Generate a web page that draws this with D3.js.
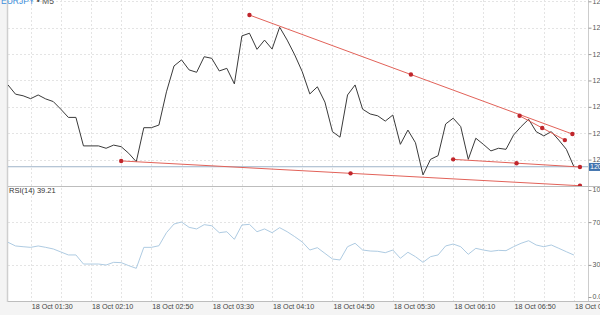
<!DOCTYPE html>
<html>
<head>
<meta charset="utf-8">
<script src="https://cdn.jsdelivr.net/npm/d3@7"></script>
<style>
    body { margin: 0; background: #f4f4f4; }
    svg { display: block; font-family: "Liberation Sans", Arial, sans-serif; }
</style>
</head>
<body>
<div id="chart"></div>
<script>
// data
var bar_times = [
    "01:15", "01:20", "01:25", "01:30", "01:35", "01:40", "01:45", "01:50", "01:55", "02:00",
    "02:05", "02:10", "02:15", "02:20", "02:25", "02:30", "02:35", "02:40", "02:45", "02:50",
    "02:55", "03:00", "03:05", "03:10", "03:15", "03:20", "03:25", "03:30", "03:35", "03:40",
    "03:45", "03:50", "03:55", "04:00", "04:05", "04:10", "04:15", "04:20", "04:25", "04:30",
    "04:35", "04:40", "04:45", "04:50", "04:55", "05:00", "05:05", "05:10", "05:15", "05:20",
    "05:25", "05:30", "05:35", "05:40", "05:45", "05:50", "05:55", "06:00", "06:05", "06:10",
    "06:15", "06:20", "06:25", "06:30", "06:35", "06:40", "06:45", "06:50", "06:55", "07:00",
    "07:05", "07:10", "07:15", "07:20", "07:25", "07:30"
];

var price_values = [
    120.383, 120.348, 120.342, 120.331, 120.345, 120.330, 120.320, 120.291, 120.260, 120.260,
    120.152, 120.152, 120.152, 120.143, 120.155, 120.149, 120.124, 120.092, 120.221, 120.221,
    120.231, 120.357, 120.455, 120.478, 120.440, 120.431, 120.490, 120.484, 120.436, 120.446,
    120.387, 120.569, 120.579, 120.518, 120.553, 120.519, 120.602, 120.553, 120.497, 120.433,
    120.349, 120.376, 120.318, 120.206, 120.185, 120.345, 120.383, 120.291, 120.273, 120.266,
    120.246, 120.269, 120.158, 120.212, 120.164, 120.042, 120.101, 120.115, 120.235, 120.257,
    120.225, 120.101, 120.181, 120.158, 120.133, 120.143, 120.139, 120.193, 120.225, 120.253,
    120.206, 120.190, 120.206, 120.174, 120.139, 120.073
];

var rsi_values = [
    51.1, 47.7, 47.0, 46.4, 47.7, 46.4, 44.9, 42.1, 39.3, 39.3,
    30.8, 30.8, 30.8, 29.9, 32.4, 32.1, 29.3, 26.8, 46.4, 46.4,
    47.9, 60.1, 68.2, 70.1, 65.1, 63.6, 67.6, 66.6, 60.1, 61.0,
    53.9, 67.3, 67.9, 61.0, 63.6, 60.1, 64.8, 61.0, 56.4, 51.4,
    43.9, 46.1, 40.8, 35.5, 34.6, 47.0, 50.2, 43.9, 43.0, 42.7,
    41.4, 43.9, 36.2, 41.8, 37.7, 32.4, 37.7, 39.3, 47.7, 49.5,
    47.0, 39.9, 45.5, 43.9, 42.7, 43.6, 43.3, 47.0, 50.2, 52.6,
    48.6, 47.0, 48.6, 45.5, 42.3, 39.21
];

var price_ticks = [120.1, 120.2, 120.3, 120.4, 120.5, 120.6, 120.7];
var rsi_ticks = [0, 30, 70, 100];
var time_ticks = ["01:30", "02:10", "02:50", "03:30", "04:10", "04:50", "05:30", "06:10", "06:50", "07:30"];

// trend lines drawn on the chart: [time, price]
var trend_lines = [
    {start: ["03:55", 120.648], end: ["07:29", 120.197]},
    {start: ["06:54", 120.266], end: ["07:24", 120.174]},
    {start: ["06:10", 120.101], end: ["07:34", 120.072]},
    {start: ["02:30", 120.095], end: ["07:34", 120.001]}
];

var symbol_text = "EURJPY";
var period_text = " \u2022 M5";
var rsi_label_text = "RSI(14) 39.21";

// layout
var svg_size = {width: 600, height: 315};
var plot = {left: 8, right: 588, price_top: 0, price_bottom: 186, rsi_top: 190, rsi_bottom: 297, bottom: 301};

var parse_time = function(t){
    return d3.timeParse("%Y-%m-%d %H:%M")("2019-10-18 " + t);
};

var x_scale = d3.scaleTime()
    .domain([parse_time("01:15"), parse_time("07:40")])
    .range([plot.left, 589]);

var y_price = d3.scaleLinear()
    .domain([120.0, 120.705])
    .range([plot.price_bottom, plot.price_top]);

var y_rsi = d3.scaleLinear()
    .domain([0, 100])
    .range([plot.rsi_bottom, plot.rsi_top]);

var svg = d3.select("#chart")
    .append("svg")
    .attr("width", svg_size.width)
    .attr("height", svg_size.height);

svg.append("rect")
    .attr("width", svg_size.width).attr("height", svg_size.height)
    .style("fill", "#f4f4f4");

svg.append("rect")
    .attr("x", plot.left).attr("y", 0)
    .attr("width", svg_size.width - plot.left).attr("height", plot.bottom)
    .style("fill", "#ffffff");

var defs = svg.append("defs");
defs.append("clipPath").attr("id", "clip-price")
    .append("rect")
    .attr("x", plot.left).attr("y", plot.price_top)
    .attr("width", plot.right - plot.left).attr("height", plot.price_bottom - plot.price_top);
defs.append("clipPath").attr("id", "clip-rsi")
    .append("rect")
    .attr("x", plot.left).attr("y", plot.price_bottom)
    .attr("width", plot.right - plot.left).attr("height", plot.bottom - plot.price_bottom);

// grid
var grid_times = d3.timeMinute.range(parse_time("01:30"), parse_time("07:40"), 20);
var grid = svg.append("g")
    .style("stroke", "#e4e4e4")
    .style("stroke-dasharray", "2,2")
    .style("stroke-width", 1);

grid.selectAll(".vgrid")
    .data(grid_times)
    .enter()
    .append("line")
    .attr("x1", function(d){ return Math.round(x_scale(d)) + 0.5; })
    .attr("x2", function(d){ return Math.round(x_scale(d)) + 0.5; })
    .attr("y1", 0)
    .attr("y2", plot.bottom);

grid.selectAll(".hgrid-price")
    .data(price_ticks)
    .enter()
    .append("line")
    .attr("x1", plot.left).attr("x2", plot.right)
    .attr("y1", function(d){ return Math.round(y_price(d)) + 0.5; })
    .attr("y2", function(d){ return Math.round(y_price(d)) + 0.5; });

grid.selectAll(".hgrid-rsi")
    .data([30, 70])
    .enter()
    .append("line")
    .attr("x1", plot.left).attr("x2", plot.right)
    .attr("y1", function(d){ return Math.round(y_rsi(d)) + 0.5; })
    .attr("y2", function(d){ return Math.round(y_rsi(d)) + 0.5; });

// frame
svg.append("line")
    .attr("x1", plot.left - 0.5).attr("x2", plot.left - 0.5)
    .attr("y1", 0).attr("y2", plot.bottom + 1)
    .style("stroke", "#cfcfcf").style("stroke-width", 1.5);
svg.append("line")
    .attr("x1", plot.right + 0.5).attr("x2", plot.right + 0.5)
    .attr("y1", 0).attr("y2", plot.bottom)
    .style("stroke", "#cccccc");
svg.append("line")
    .attr("x1", plot.left).attr("x2", svg_size.width)
    .attr("y1", plot.price_bottom + 0.5).attr("y2", plot.price_bottom + 0.5)
    .style("stroke", "#bdbdbd");
svg.append("line")
    .attr("x1", plot.left).attr("x2", svg_size.width)
    .attr("y1", plot.bottom + 0.5).attr("y2", plot.bottom + 0.5)
    .style("stroke", "#bdbdbd");

var last_price = price_values[price_values.length - 1];

// current price line
svg.append("line")
    .attr("x1", plot.left).attr("x2", plot.right)
    .attr("y1", y_price(last_price)).attr("y2", y_price(last_price))
    .style("stroke", "#9fb4c9").style("stroke-width", 1);

var bars = bar_times.map(function(t, i){
    return {time: parse_time(t), price: price_values[i], rsi: rsi_values[i]};
});

// price line
svg.append("path")
    .datum(bars)
    .attr("clip-path", "url(#clip-price)")
    .attr("d", d3.line()
        .x(function(d){ return x_scale(d.time); })
        .y(function(d){ return y_price(d.price); }))
    .style("fill", "none")
    .style("stroke", "#3a3a3a")
    .style("stroke-width", 1);

// rsi line
svg.append("path")
    .datum(bars)
    .attr("clip-path", "url(#clip-rsi)")
    .attr("d", d3.line()
        .x(function(d){ return x_scale(d.time); })
        .y(function(d){ return y_rsi(d.rsi); }))
    .style("fill", "none")
    .style("stroke", "#aecbe2")
    .style("stroke-width", 1);

// trend lines
var trend_group = svg.append("g").attr("clip-path", "url(#clip-price)");
trend_lines.forEach(function(tl){
    var x1 = x_scale(parse_time(tl.start[0])), y1 = y_price(tl.start[1]);
    var x2 = x_scale(parse_time(tl.end[0])), y2 = y_price(tl.end[1]);
    trend_group.append("line")
        .attr("x1", x1).attr("y1", y1)
        .attr("x2", x2).attr("y2", y2)
        .style("stroke", "#e26259")
        .style("stroke-width", 1);
    var handles = [[x1, y1], [(x1 + x2) / 2, (y1 + y2) / 2], [x2, y2]];
    trend_group.selectAll(null)
        .data(handles)
        .enter()
        .append("circle")
        .attr("cx", function(d){ return d[0]; })
        .attr("cy", function(d){ return d[1]; })
        .attr("r", 2.2)
        .style("fill", "#c0262c");
});

// right price axis
var price_axis = d3.axisRight(y_price)
    .tickValues(price_ticks)
    .tickSize(3)
    .tickPadding(1)
    .tickFormat(d3.format(".3f"));
var pa = svg.append("g")
    .attr("transform", "translate(" + (plot.right + 0.5) + ",0)")
    .call(price_axis);
pa.select(".domain").remove();
pa.selectAll("line").style("stroke", "#999");
pa.selectAll("text").attr("dy", "0.28em").style("font-size", "7px").style("fill", "#555");

// current price box
svg.append("rect")
    .attr("x", plot.right + 1).attr("y", y_price(last_price) - 3.8)
    .attr("width", 14).attr("height", 8)
    .style("fill", "#3f72ad");
svg.append("text")
    .attr("x", plot.right + 2).attr("y", y_price(last_price) + 2.4)
    .style("font-size", "7px").style("fill", "#ffffff")
    .text(d3.format(".3f")(last_price));

// right rsi axis
var rsi_axis = d3.axisRight(y_rsi)
    .tickValues(rsi_ticks)
    .tickSize(3)
    .tickPadding(1)
    .tickFormat(d3.format(".2f"));
var ra = svg.append("g")
    .attr("transform", "translate(" + (plot.right + 0.5) + ",0)")
    .call(rsi_axis);
ra.select(".domain").remove();
ra.selectAll("line").style("stroke", "#999");
ra.selectAll("text").attr("dy", "0.28em").style("font-size", "7px").style("fill", "#555");

// bottom time axis
var time_axis = d3.axisBottom(x_scale)
    .tickValues(time_ticks.map(parse_time))
    .tickSize(0)
    .tickPadding(3)
    .tickFormat(d3.timeFormat("%d %b %H:%M"));
var ta = svg.append("g")
    .attr("transform", "translate(0," + plot.bottom + ")")
    .call(time_axis);
ta.select(".domain").remove();
ta.selectAll("text")
    .attr("text-anchor", "start")
    .attr("dx", "0.5")
    .style("font-size", "7.2px")
    .style("fill", "#444");

// labels
var title = svg.append("text")
    .attr("x", 1).attr("y", 4)
    .style("font-size", "8.5px");
title.append("tspan").style("fill", "#3d8fdc").text(symbol_text);
title.append("tspan").style("fill", "#555").text(period_text);

svg.append("text")
    .attr("x", plot.left + 1).attr("y", 193)
    .style("font-size", "7.5px")
    .style("fill", "#333")
    .text(rsi_label_text);
</script>
</body>
</html>
